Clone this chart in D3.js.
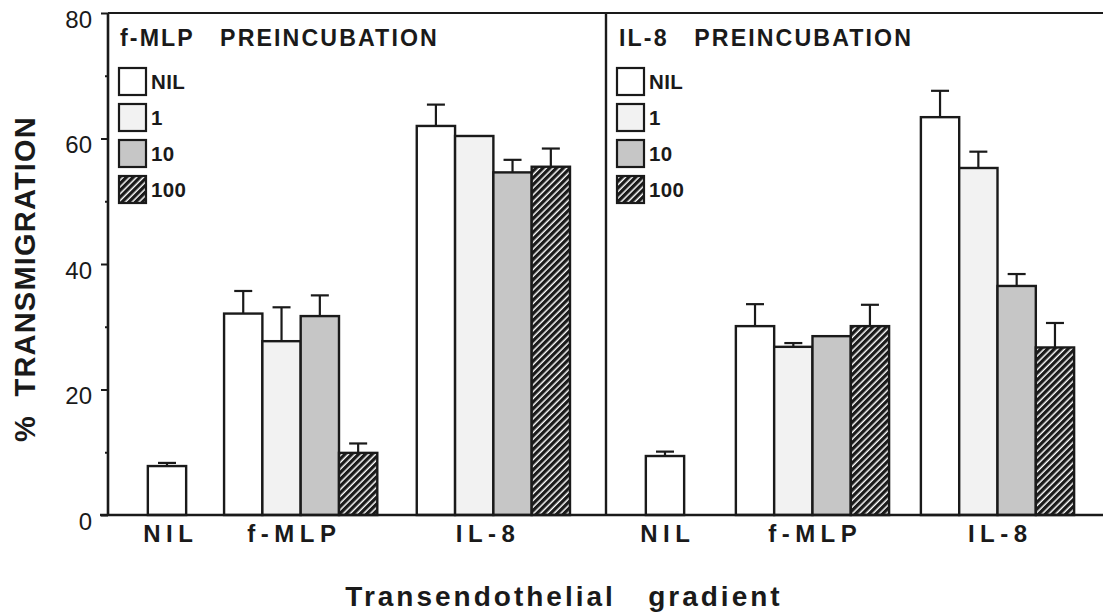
<!DOCTYPE html>
<html>
<head>
<meta charset="utf-8">
<script src="https://cdn.jsdelivr.net/npm/d3@7"></script>
<style>
  body { margin: 0; background: #fff; }
  svg { display: block; font-family: "Liberation Sans", Arial, Helvetica, sans-serif; }
</style>
</head>
<body>
<svg id="chart" width="1103" height="615"></svg>
<script>
// ---- data -------------------------------------------------------------
const gradients = ["NIL", "f-MLP", "IL-8"];          // transendothelial gradient
const doses = ["NIL", "1", "10", "100"];              // preincubation dose
const panelTitles = ["f-MLP   PREINCUBATION", "IL-8   PREINCUBATION"];
const yTicks = [0, 20, 40, 60, 80];
const yMinorTicks = [10, 30, 50, 70];

// % transmigration (mean) after f-MLP preincubation
const fmlpPreNil  = [7.8];
const fmlpPreFmlp = [32.1, 27.7, 31.7, 9.9];
const fmlpPreIl8  = [62.0, 60.4, 54.6, 55.5];
// SEM (null = no error bar drawn)
const fmlpPreNilErr  = [0.5];
const fmlpPreFmlpErr = [3.6, 5.4, 3.3, 1.5];
const fmlpPreIl8Err  = [3.4, null, 2.0, 2.9];

// % transmigration (mean) after IL-8 preincubation
const il8PreNil  = [9.4];
const il8PreFmlp = [30.1, 26.8, 28.5, 30.1];
const il8PreIl8  = [63.4, 55.3, 36.5, 26.7];
const il8PreNilErr  = [0.7];
const il8PreFmlpErr = [3.5, 0.6, null, 3.4];
const il8PreIl8Err  = [4.2, 2.6, 1.9, 3.9];

const panelValues = [
  [fmlpPreNil, fmlpPreFmlp, fmlpPreIl8],
  [il8PreNil, il8PreFmlp, il8PreIl8]
];
const panelErrors = [
  [fmlpPreNilErr, fmlpPreFmlpErr, fmlpPreIl8Err],
  [il8PreNilErr, il8PreFmlpErr, il8PreIl8Err]
];

// ---- layout -----------------------------------------------------------
const W = 1103, H = 615;
const plotLeft = 108, plotTop = 13, plotBottom = 515;
const panelWidth = 498;
const barUnits = 13;                       // panel width expressed in bar widths
const groupStarts = [[1.04, 3.03, 8.06], [1.04, 3.39, 8.22]];
const labelShift = [[1, -9, -8], [0, 0, 0]];   // small nudges of category labels (px)
const doseFill = ["#ffffff", "#f2f2f2", "#c6c6c6", "url(#hatch)"];

const svg = d3.select("#chart");

// diagonal hatch for the highest dose
const defs = svg.append("defs");
const pat = defs.append("pattern")
  .attr("id", "hatch")
  .attr("patternUnits", "userSpaceOnUse")
  .attr("width", 4.8).attr("height", 4.8)
  .attr("patternTransform", "rotate(45)");
pat.append("rect").attr("width", 4.8).attr("height", 4.8).attr("fill", "#1a1a1a");
pat.append("line").attr("x1", 1.2).attr("y1", 0).attr("x2", 1.2).attr("y2", 4.8)
  .attr("stroke", "#ffffff").attr("stroke-width", 1.5);

const y = d3.scaleLinear().domain([0, 80]).range([plotBottom, plotTop]);

// ---- bars per panel ---------------------------------------------------
panelValues.forEach((groups, p) => {
  const left = plotLeft + p * panelWidth;
  const x = d3.scaleLinear().domain([0, barUnits]).range([left, left + panelWidth]);
  const g = svg.append("g");

  const bars = [];
  groups.forEach((vals, gi) => {
    vals.forEach((v, di) => {
      bars.push({ value: v, err: panelErrors[p][gi][di], dose: di,
                  x0: groupStarts[p][gi] + di, group: gi });
    });
  });

  g.selectAll("rect.bar").data(bars).join("rect")
    .attr("class", "bar")
    .attr("x", d => x(d.x0))
    .attr("width", d => x(d.x0 + 1) - x(d.x0))
    .attr("y", d => y(d.value))
    .attr("height", d => y(0) - y(d.value))
    .attr("fill", d => doseFill[d.dose])
    .attr("stroke", "#1a1a1a")
    .attr("stroke-width", 2.4);

  const eb = bars.filter(d => d.err != null);
  g.selectAll("line.err").data(eb).join("line")
    .attr("class", "err")
    .attr("x1", d => x(d.x0 + 0.5)).attr("x2", d => x(d.x0 + 0.5))
    .attr("y1", d => y(d.value)).attr("y2", d => y(d.value + d.err))
    .attr("stroke", "#1a1a1a").attr("stroke-width", 2.2);
  g.selectAll("line.cap").data(eb).join("line")
    .attr("class", "cap")
    .attr("x1", d => x(d.x0 + 0.5) - 9).attr("x2", d => x(d.x0 + 0.5) + 9)
    .attr("y1", d => y(d.value + d.err)).attr("y2", d => y(d.value + d.err))
    .attr("stroke", "#1a1a1a").attr("stroke-width", 2.2);

  // gradient category labels
  g.selectAll("text.cat").data(gradients).join("text")
    .attr("class", "cat")
    .attr("x", (d, gi) => {
      const n = groups[gi].length;
      return x(groupStarts[p][gi] + n / 2) + 2.75 + labelShift[p][gi];
    })
    .attr("y", 542)
    .attr("text-anchor", "middle")
    .attr("font-size", 24).attr("font-weight", "bold")
    .attr("letter-spacing", 5.5)
    .attr("fill", "#1a1a1a")
    .text(d => d);

  // panel title
  g.append("text")
    .attr("x", left + 12 + p).attr("y", 46)
    .attr("font-size", 23.2).attr("font-weight", "bold")
    .attr("letter-spacing", 2.1)
    .attr("fill", "#1a1a1a")
    .style("white-space", "pre")
    .text(panelTitles[p]);

  // dose legend
  const lg = g.append("g");
  doses.forEach((dname, di) => {
    const ly = 68 + di * 36;
    lg.append("rect")
      .attr("x", left + 11).attr("y", ly)
      .attr("width", 27).attr("height", 27)
      .attr("fill", doseFill[di])
      .attr("stroke", "#1a1a1a").attr("stroke-width", 2.2);
    lg.append("text")
      .attr("x", left + 43).attr("y", ly + 21)
      .attr("font-size", 20.5).attr("font-weight", "bold")
      .attr("letter-spacing", 0.4)
      .attr("fill", "#1a1a1a")
      .text(dname);
  });
});

// ---- axes and frame ---------------------------------------------------
const yAxis = svg.append("g")
  .attr("transform", `translate(${plotLeft},0)`)
  .call(d3.axisLeft(y).tickValues(yTicks).tickSize(7).tickPadding(9)
          .tickFormat(d3.format("d")));
yAxis.select(".domain").remove();
yAxis.selectAll(".tick line").attr("stroke", "#1a1a1a").attr("stroke-width", 2);
yAxis.selectAll(".tick text")
  .attr("font-size", 24).attr("font-family", "Liberation Sans, Arial, sans-serif")
  .attr("fill", "#1a1a1a").attr("dy", "0.6em");

const yMinor = svg.append("g")
  .attr("transform", `translate(${plotLeft},0)`)
  .call(d3.axisLeft(y).tickValues(yMinorTicks).tickSize(3).tickFormat(""));
yMinor.select(".domain").remove();
yMinor.selectAll(".tick line").attr("stroke", "#1a1a1a").attr("stroke-width", 2);

const frame = svg.append("g").attr("stroke", "#1a1a1a").attr("fill", "none");
frame.append("line").attr("x1", plotLeft).attr("x2", W).attr("y1", y(80)).attr("y2", y(80))
  .attr("stroke-width", 2);
frame.append("line").attr("x1", plotLeft - 8).attr("x2", W).attr("y1", y(0)).attr("y2", y(0))
  .attr("stroke-width", 2.4);
frame.append("line").attr("x1", plotLeft).attr("x2", plotLeft).attr("y1", y(80)).attr("y2", y(0))
  .attr("stroke-width", 2.6);
frame.append("line").attr("x1", plotLeft + panelWidth).attr("x2", plotLeft + panelWidth)
  .attr("y1", y(80)).attr("y2", y(0)).attr("stroke-width", 2.4);

// ---- axis titles ------------------------------------------------------
svg.append("text")
  .attr("transform", `translate(35,442) rotate(-90)`)
  .attr("text-anchor", "start")
  .attr("font-size", 29).attr("font-weight", "bold")
  .attr("letter-spacing", 1.2)
  .attr("fill", "#1a1a1a")
  .style("white-space", "pre")
  .text("%  TRANSMIGRATION");

svg.append("text")
  .attr("x", 564).attr("y", 606)
  .attr("text-anchor", "middle")
  .attr("font-size", 28).attr("font-weight", "bold")
  .attr("letter-spacing", 3)
  .attr("fill", "#1a1a1a")
  .style("white-space", "pre")
  .text("Transendothelial   gradient");
</script>
</body>
</html>
